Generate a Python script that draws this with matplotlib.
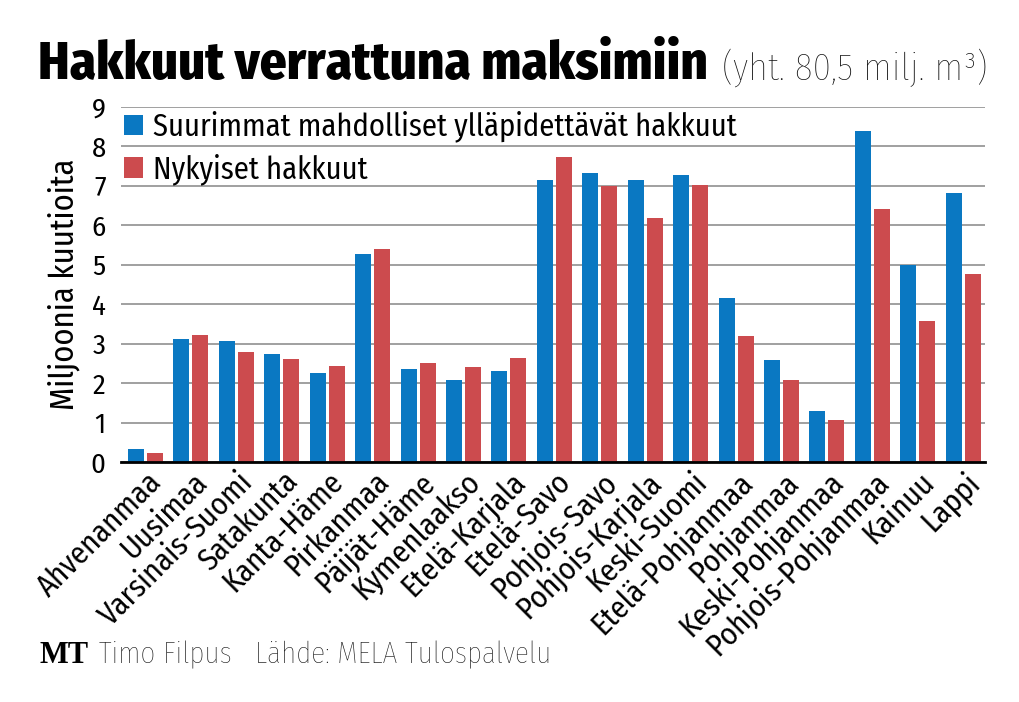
import matplotlib
matplotlib.use("Agg")
import matplotlib.pyplot as plt
import numpy as np

regions = ["Ahvenanmaa", "Uusimaa", "Varsinais-Suomi", "Satakunta", "Kanta-Häme",
           "Pirkanmaa", "Päijät-Häme", "Kymenlaakso", "Etelä-Karjala", "Etelä-Savo",
           "Pohjois-Savo", "Pohjois-Karjala", "Keski-Suomi", "Etelä-Pohjanmaa",
           "Pohjanmaa", "Keski-Pohjanmaa", "Pohjois-Pohjanmaa", "Kainuu", "Lappi"]
max_sustainable = [0.34, 3.12, 3.07, 2.75, 2.25, 5.28, 2.35, 2.07, 2.30, 7.14,
                   7.32, 7.15, 7.27, 4.15, 2.58, 1.29, 8.39, 4.99, 6.82]
current = [0.24, 3.22, 2.79, 2.62, 2.43, 5.39, 2.52, 2.40, 2.64, 7.74,
           6.99, 6.18, 7.03, 3.19, 2.07, 1.06, 6.42, 3.57, 4.76]
yticks = list(range(0, 10))

FAM = ['Fira Sans Condensed', 'Roboto Condensed', 'DejaVu Sans']
plt.rcParams['font.family'] = FAM

blue = "#0a78c2"
red = "#cc4b4e"

fig = plt.figure(figsize=(10.19, 7.02), dpi=100)
ax = fig.add_axes([0.1187, 0.3419, 0.9666 - 0.1187, 0.8476 - 0.3419])

x = np.arange(len(regions))
w = 0.352
ax.bar(x - 0.209, max_sustainable, w, color=blue, zorder=3,
       label="Suurimmat mahdolliset ylläpidettävät hakkuut")
ax.bar(x + 0.209, current, w, color=red, zorder=3, label="Nykyiset hakkuut")

ax.set_xlim(-0.54, len(regions) - 0.52)
ax.set_ylim(0, 9)
ax.set_yticks(yticks)
ax.set_yticklabels([str(t) for t in yticks], fontsize=20.5)
ax.yaxis.grid(True, color="#a0a0a0", linewidth=1.4, zorder=0)
ax.tick_params(axis='y', length=0, pad=11)
ax.tick_params(axis='x', length=0, pad=3)
ax.set_xticks(x + 0.02)
ax.set_xticklabels(regions, rotation=45, ha='right', rotation_mode='anchor', fontsize=22)
for s in ['top', 'right', 'left']:
    ax.spines[s].set_visible(False)
ax.spines['bottom'].set_linewidth(2)
ax.spines['bottom'].set_zorder(4)
ax.set_ylabel("Miljoonia kuutioita", fontsize=23.5, labelpad=8)

leg = ax.legend(loc='upper left', bbox_to_anchor=(0.003, 0.99), frameon=False,
                fontsize=22, handlelength=0.65, handleheight=0.65, handletextpad=0.3,
                labelspacing=0.36, borderaxespad=0.0, borderpad=0.0)

fig.text(0.037, 0.887, "Hakkuut verrattuna maksimiin", fontsize=38, fontweight=800,
         va='baseline', ha='left')
fig.text(0.969, 0.887, "(yht. 80,5 milj. m³)", fontsize=27, fontweight='light',
         va='baseline', ha='right', color="#111111")

fig.text(0.039, 0.055, "MT", fontsize=22, fontweight='bold',
         family=['Liberation Serif', 'DejaVu Serif'], va='baseline', ha='left')
fig.text(0.097, 0.055, "Timo Filpus   Lähde: MELA Tulospalvelu", fontsize=21,
         fontweight='light', va='baseline', ha='left', color="#111111")

fig.savefig("out.png", dpi=100)
